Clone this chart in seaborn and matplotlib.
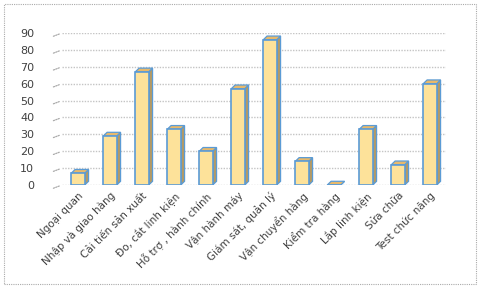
import matplotlib
matplotlib.use("Agg")
import matplotlib.pyplot as plt
import seaborn as sns
import pandas as pd
from matplotlib.patches import Polygon, Rectangle

categories = ["Ngoại quan", "Nhập và giao hàng", "Cải tiến sản xuất", "Đo, cắt linh kiện",
              "Hỗ trợ , hành chính", "Vận hành máy", "Giám sát, quản lý", "Vận chuyển hàng",
              "Kiểm tra hàng", "Lắp linh kiện", "Sửa chữa", "Test chức năng"]
values = [7, 29, 67, 33, 20, 57, 86, 14, 0, 33, 12, 60]
yticks = [0, 10, 20, 30, 40, 50, 60, 70, 80, 90]

df = pd.DataFrame({"cat": categories, "val": values})

sns.set_theme(style="white")
plt.rcParams["font.family"] = ["DejaVu Sans"]

fig = plt.figure(figsize=(4.8, 2.88), dpi=100)
ax = fig.add_axes([62/480, (288-185)/288, (446-62)/480, (185-33)/288])

face = "#FDE29A"
edge = "#5B9BD5"
side = "#B39A66"

sns.barplot(data=df, x="cat", y="val", color=face, width=0.42, edgecolor=edge,
            linewidth=1.2, saturation=1, ax=ax, zorder=3)

dx, dy = 0.12, 2.2
for p in ax.patches:
    x0 = p.get_x(); w = p.get_width(); h = p.get_height()
    x1 = x0 + w
    sidepoly = Polygon([[x1, 0], [x1 + dx, dy], [x1 + dx, h + dy], [x1, h]],
                       closed=True, facecolor=side, edgecolor=edge, linewidth=0.9, zorder=2.9)
    toppoly = Polygon([[x0, h], [x0 + dx, h + dy], [x1 + dx, h + dy], [x1, h]],
                      closed=True, facecolor="#E8B96A", edgecolor=edge, linewidth=0.9, zorder=2.9)
    ax.add_patch(sidepoly)
    ax.add_patch(toppoly)

ax.set_ylim(0, 90)
ax.set_xlim(-0.5, len(categories) - 0.5)
ax.set_yticks(yticks)
ax.yaxis.grid(True, color="#C4C4C4", linestyle=(0, (1, 1)), linewidth=1.0, zorder=0)
ax.set_axisbelow(True)
for s in ax.spines.values():
    s.set_visible(False)
ax.set_xlabel("")
ax.set_ylabel("")
ax.tick_params(axis="y", length=0, pad=20, labelsize=8, labelcolor="#404040")
ax.tick_params(axis="x", length=0, pad=4, labelsize=7.5, labelcolor="#404040")
ax.set_xticks(range(len(categories)))
ax.set_xticklabels(categories, rotation=45, ha="right", rotation_mode="anchor")

# diagonal tick stubs on the left
for v in yticks:
    ax.annotate("", xy=(-0.5, v), xytext=(-0.85, v - 2.5),
                arrowprops=dict(arrowstyle="-", color="#AAAAAA", lw=0.9, linestyle=(0, (1, 1))),
                annotation_clip=False)

fig.patches.append(Rectangle((4/480, 4/288), 472/480, 280/288, transform=fig.transFigure,
                             fill=False, edgecolor="#AAAAAA", linestyle=(0, (1, 1)), linewidth=0.8))

fig.savefig("out.png", dpi=100)
